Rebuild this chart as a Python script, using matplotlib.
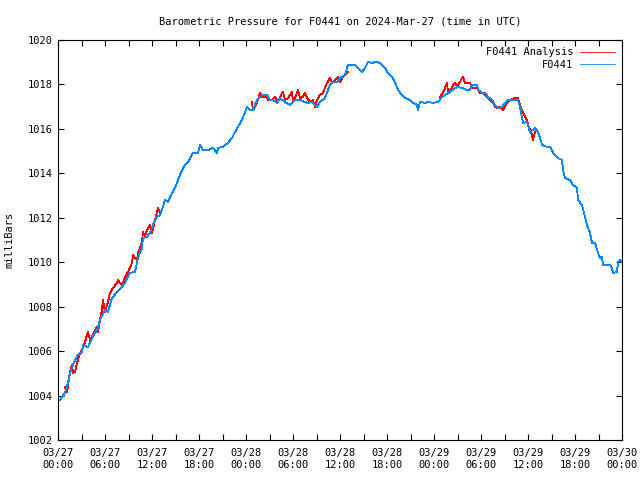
import datetime as dt
import matplotlib
matplotlib.use('Agg')
import matplotlib.pyplot as plt
import matplotlib.dates as mdates
import numpy as np

start = dt.datetime(2024, 3, 27)

# F0441 observed pressure (hours after 03/27 00:00 UTC, mb)
obs_hours = [0, 0.26, 0.89, 1.28, 1.53, 1.91, 2.55, 3.06, 3.19, 3.83, 4.34, 4.98, 5.36, 6.0,
             6.38, 6.89, 7.53, 8.17, 8.55, 9.19, 9.83, 10.2, 10.72, 10.85, 11.36, 11.74, 12.13,
             12.64, 13.02, 13.4, 13.66, 14.04, 14.55, 14.94, 15.32, 15.83, 16.21, 16.6, 17.11,
             17.23, 17.87, 18.13, 18.51, 19.15, 19.79, 20.3, 20.43, 21.06, 21.7, 22.21, 22.6,
             22.98, 23.49, 24.13, 24.51, 24.89, 25.4, 26.04, 26.68, 27.06, 27.45, 27.96, 28.34,
             28.98, 29.62, 30.26, 30.89, 31.53, 31.91, 32.43, 32.81, 33.06, 33.45, 34.09, 34.72,
             35.11, 35.62, 36.0, 36.64, 37.02, 37.53, 37.91, 38.3, 38.81, 39.19, 39.57, 40.09,
             40.47, 40.85, 41.36, 41.74, 42.13, 42.64, 43.02, 43.4, 43.91, 44.3, 44.94, 45.19,
             45.83, 45.96, 46.21, 46.85, 47.23, 47.87, 48.51, 49.02, 49.4, 50.04, 50.68, 51.06,
             51.57, 52.21, 52.6, 52.85, 53.49, 53.62, 54.13, 54.51, 54.89, 55.4, 55.79, 56.17,
             56.68, 57.06, 57.45, 58.09, 58.72, 58.98, 59.36, 59.87, 60.26, 60.89, 61.28, 61.79,
             62.43, 62.81, 63.19, 63.83, 64.34, 64.47, 64.72, 65.36, 65.74, 66.26, 66.38, 66.89,
             67.28, 67.53, 67.91, 68.17, 68.55, 68.94, 69.19, 69.45, 69.57, 70.09, 70.47, 70.72,
             70.85, 71.36, 71.49, 71.74, 72.0]
obs_mb = [1003.76, 1003.8, 1004.12, 1004.57, 1005.0, 1005.38, 1005.83, 1005.96, 1006.27,
          1006.18, 1006.59, 1006.95, 1007.4, 1007.85, 1007.76, 1008.39, 1008.66, 1008.89,
          1009.07, 1009.52, 1009.56, 1010.19, 1010.64, 1011.09, 1011.14, 1011.32, 1011.68,
          1012.04, 1012.13, 1012.49, 1012.8, 1012.71, 1013.12, 1013.34, 1013.7, 1014.15,
          1014.38, 1014.51, 1014.83, 1014.92, 1014.92, 1015.28, 1015.05, 1015.05, 1015.14,
          1014.92, 1015.14, 1015.19, 1015.37, 1015.59, 1015.86, 1016.09, 1016.4, 1016.99,
          1016.85, 1016.85, 1017.3, 1017.53, 1017.53, 1017.3, 1017.3, 1017.17, 1017.39,
          1017.21, 1017.08, 1017.3, 1017.3, 1017.21, 1017.17, 1017.21, 1017.08, 1016.99,
          1017.21, 1017.39, 1017.98, 1018.11, 1018.11, 1018.29, 1018.43, 1018.88, 1018.88,
          1018.88, 1018.74, 1018.56, 1018.74, 1019.01, 1018.97, 1019.01, 1019.01, 1018.88,
          1018.74, 1018.52, 1018.34, 1018.11, 1017.75, 1017.53, 1017.39, 1017.3, 1017.21,
          1017.08, 1016.85, 1017.21, 1017.17, 1017.21, 1017.17, 1017.21, 1017.44, 1017.53,
          1017.66, 1017.84, 1017.89, 1017.84, 1017.75, 1017.75, 1017.98, 1017.98, 1017.75,
          1017.62, 1017.62, 1017.44, 1017.3, 1017.08, 1016.94, 1016.99, 1017.17, 1017.3,
          1017.3, 1017.3, 1016.99, 1016.27, 1016.31, 1015.86, 1016.04, 1015.86, 1015.28,
          1015.19, 1015.19, 1014.92, 1014.69, 1014.6, 1014.15, 1013.79, 1013.7, 1013.48,
          1013.34, 1012.8, 1012.58, 1012.04, 1011.68, 1011.32, 1010.87, 1010.87, 1010.42,
          1010.19, 1010.24, 1009.88, 1009.88, 1009.88, 1009.74, 1009.52, 1009.56, 1010.01,
          1010.1, 1010.0]

# F0441 analysis (three pieces, gaps between them)
ana_hours = [0.89, 1.15, 1.53, 1.79, 1.91, 2.17, 2.43, 2.81, 3.06, 3.45, 3.7, 3.83, 4.09, 4.34,
             4.72, 4.98, 5.11, 5.36, 5.62, 5.74, 6.0, 6.38, 6.64, 7.02, 7.53, 7.66, 7.91, 8.17,
             8.55, 8.94, 9.45, 9.57, 9.83, 10.09, 10.21, 10.47, 10.72, 10.85, 11.11, 11.36,
             11.74, 12.0, 12.38, 12.64, 12.77, 13.02, 13.1,
             24.77, 24.89, 25.4, 25.79, 26.04, 26.68, 26.81, 27.32, 27.7, 28.09, 28.6, 28.72,
             28.98, 29.36, 29.87, 30.0, 30.51, 30.64, 30.89, 31.28, 31.53, 31.79, 32.17, 32.55,
             32.81, 33.06, 33.45, 33.83, 34.34, 34.72, 34.98, 35.36, 35.62, 35.74, 36.0, 36.38,
             36.89, 37.02, 37.1,
             48.77, 49.15, 49.66, 49.79, 50.3, 50.43, 50.68, 50.94, 51.32, 51.57, 51.7, 51.96,
             52.6, 52.85, 53.49, 53.87, 54.26, 54.77, 55.15, 55.53, 55.79, 56.04, 56.43, 56.81,
             57.32, 57.7, 58.34, 58.72, 58.98, 59.36, 59.87, 60.0, 60.26, 60.51, 60.64, 60.89]
ana_mb = [1004.39, 1004.16, 1005.06, 1005.38, 1005.02, 1005.06, 1005.47, 1005.92, 1006.05,
          1006.41, 1006.73, 1006.86, 1006.5, 1006.64, 1006.95, 1007.09, 1006.86, 1007.4,
          1007.85, 1008.3, 1007.76, 1008.21, 1008.62, 1008.84, 1009.07, 1009.2, 1009.07,
          1008.98, 1009.34, 1009.56, 1009.97, 1010.33, 1010.19, 1010.1, 1010.42, 1010.64,
          1010.91, 1011.36, 1011.14, 1011.45, 1011.68, 1011.32, 1011.9, 1012.26, 1012.44,
          1012.22, np.nan,
          1017.21, 1016.85, 1017.17, 1017.62, 1017.44, 1017.44, 1017.3, 1017.3, 1017.44,
          1017.21, 1017.62, 1017.66, 1017.3, 1017.39, 1017.66, 1017.21, 1017.62, 1017.75,
          1017.39, 1017.44, 1017.62, 1017.39, 1017.21, 1017.3, 1016.99, 1017.3, 1017.53,
          1017.62, 1018.07, 1018.29, 1018.07, 1018.2, 1018.29, 1018.34, 1018.11, 1018.34,
          1018.52, 1018.56, np.nan,
          1017.44, 1017.62, 1018.07, 1017.62, 1017.84, 1017.98, 1018.07, 1017.89, 1018.11,
          1018.29, 1018.34, 1018.07, 1018.07, 1017.84, 1017.84, 1017.62, 1017.62, 1017.44,
          1017.3, 1017.17, 1016.99, 1016.94, 1016.99, 1016.85, 1017.17, 1017.3, 1017.39,
          1017.39, 1017.08, 1016.72, 1016.4, 1016.18, 1015.95, 1015.73, 1015.5, 1015.86]

obs_t = [start + dt.timedelta(hours=h) for h in obs_hours]
ana_t = [start + dt.timedelta(hours=h) for h in ana_hours]

plt.rcParams['font.family'] = 'DejaVu Sans Mono'
plt.rcParams['font.size'] = 7

fig = plt.figure(figsize=(6.4, 4.8), dpi=100)
ax = fig.add_axes([58 / 640, 40 / 480, 564 / 640, 400 / 480])

ax.plot(ana_t, ana_mb, color='#ff0000', lw=0.6, antialiased=False, label='F0441 Analysis')
ax.plot(obs_t, obs_mb, color='#0a88ff', lw=0.6, antialiased=False, label='F0441')

ax.set_xlim(start, start + dt.timedelta(hours=72))
ax.set_ylim(1002, 1020)
ax.set_yticks(np.arange(1002, 1021, 2))
ax.xaxis.set_major_locator(mdates.HourLocator(byhour=[0, 6, 12, 18]))
ax.xaxis.set_minor_locator(mdates.HourLocator(byhour=[3, 9, 15, 21]))
ax.xaxis.set_major_formatter(mdates.DateFormatter('%m/%d\n%H:%M'))
ax.tick_params(which='both', direction='in', top=True, right=True, length=4, width=0.8,
               labelsize=7.5)
ax.tick_params(axis='x', pad=6)
for s in ax.spines.values():
    s.set_linewidth(0.8)

ax.set_ylabel('milliBars', labelpad=10, fontsize=7.5)
ax.set_title('Barometric Pressure for F0441 on 2024-Mar-27 (time in UTC)', pad=11, fontsize=7.5)
ax.legend(loc='upper right', frameon=False, markerfirst=False, handlelength=3.3,
          handletextpad=0.7, labelspacing=0.25, borderaxespad=0.3, fontsize=7.5)

fig.savefig('out.png', dpi=100)
